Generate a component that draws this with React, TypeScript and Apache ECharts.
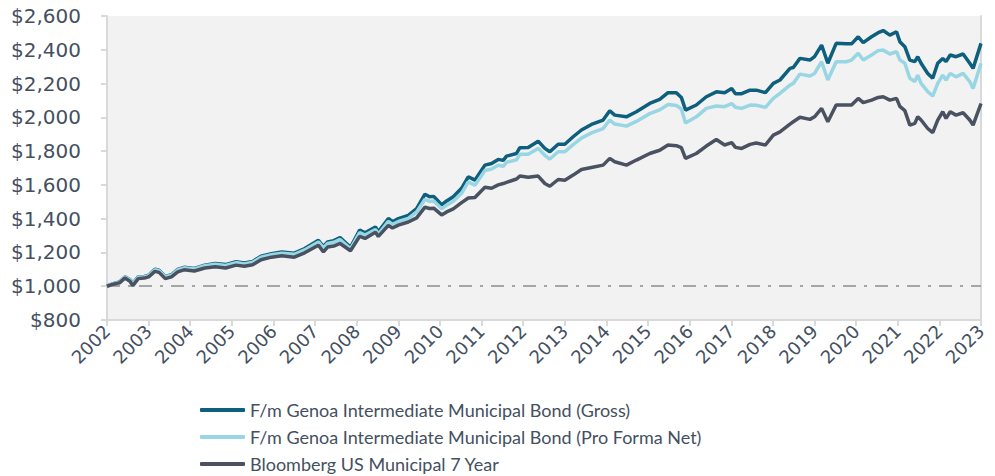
import React, { useEffect, useRef } from "react";
import * as echarts from "echarts";

const seriesNames = [
  "F/m Genoa Intermediate Municipal Bond (Gross)",
  "F/m Genoa Intermediate Municipal Bond (Pro Forma Net)",
  "Bloomberg US Municipal 7 Year",
];

const years = [
  2002.0, 2002.15, 2002.3, 2002.43, 2002.55, 2002.62, 2002.75, 2002.9, 2003.0, 2003.15,
  2003.25, 2003.4, 2003.55, 2003.7, 2003.85, 2004.1, 2004.35, 2004.6, 2004.85, 2005.1,
  2005.3, 2005.5, 2005.7, 2005.95, 2006.2, 2006.5, 2006.75, 2007.08, 2007.2, 2007.3,
  2007.45, 2007.6, 2007.85, 2008.07, 2008.2, 2008.45, 2008.52, 2008.76, 2008.86, 2009.0,
  2009.24, 2009.44, 2009.64, 2009.75, 2009.85, 2010.04, 2010.16, 2010.32, 2010.52, 2010.68,
  2010.84, 2011.08, 2011.24, 2011.4, 2011.52, 2011.6, 2011.84, 2011.92, 2012.12, 2012.36,
  2012.52, 2012.64, 2012.84, 2013.0, 2013.2, 2013.4, 2013.64, 2013.92, 2014.08, 2014.2,
  2014.48, 2014.72, 2015.04, 2015.28, 2015.48, 2015.68, 2015.8, 2015.9, 2016.16, 2016.4,
  2016.64, 2016.84, 2017.01, 2017.1, 2017.25, 2017.45, 2017.6, 2017.82, 2018.01, 2018.17,
  2018.41, 2018.49, 2018.65, 2018.89, 2019.0, 2019.17, 2019.32, 2019.52, 2019.76, 2019.89,
  2020.05, 2020.17, 2020.37, 2020.53, 2020.65, 2020.81, 2020.97, 2021.05, 2021.17, 2021.29,
  2021.41, 2021.48, 2021.56, 2021.72, 2021.84, 2021.96, 2022.08, 2022.16, 2022.26, 2022.4,
  2022.57, 2022.73, 2022.81, 2023.0,
];

const gross = [
  1000, 1015, 1025, 1055, 1040, 1018, 1055, 1058, 1065, 1100,
  1095, 1058, 1068, 1100, 1112, 1105, 1125, 1135, 1128, 1145,
  1137, 1147, 1178, 1193, 1203, 1196, 1223, 1272, 1235, 1262,
  1270, 1288, 1230, 1332, 1316, 1351, 1322, 1401, 1382, 1400,
  1420, 1460, 1545, 1530, 1532, 1482, 1505, 1530, 1580, 1648,
  1628, 1717, 1727, 1751, 1745, 1770, 1786, 1820, 1822, 1859,
  1816, 1796, 1841, 1841, 1885, 1925, 1958, 1984, 2039, 2013,
  2003, 2033, 2082, 2106, 2146, 2146, 2118, 2043, 2073, 2122,
  2151, 2146, 2171, 2140, 2140, 2161, 2161, 2146, 2201, 2221,
  2290, 2295, 2349, 2339, 2359, 2428, 2320, 2438, 2435, 2435,
  2477, 2442, 2477, 2501, 2514, 2487, 2507, 2448, 2418, 2339,
  2330, 2359, 2320, 2260, 2231, 2320, 2349, 2330, 2369, 2359,
  2375, 2320, 2290, 2438,
];

const proFormaNet = [
  1000, 1015, 1024, 1054, 1038, 1016, 1053, 1056, 1063, 1097,
  1092, 1056, 1065, 1097, 1109, 1102, 1121, 1130, 1123, 1140,
  1132, 1142, 1172, 1186, 1196, 1189, 1215, 1262, 1227, 1253,
  1260, 1277, 1221, 1318, 1303, 1336, 1308, 1384, 1366, 1383,
  1402, 1440, 1515, 1502, 1504, 1458, 1480, 1503, 1550, 1618,
  1598, 1685, 1694, 1716, 1710, 1734, 1748, 1781, 1782, 1816,
  1775, 1753, 1796, 1796, 1838, 1877, 1908, 1933, 1984, 1960,
  1948, 1976, 2022, 2044, 2076, 2070, 2050, 1966, 2003, 2053,
  2067, 2063, 2082, 2060, 2053, 2073, 2072, 2059, 2112, 2142,
  2191, 2201, 2256, 2245, 2260, 2329, 2221, 2329, 2329, 2339,
  2379, 2339, 2369, 2395, 2398, 2375, 2389, 2340, 2320, 2231,
  2212, 2250, 2201, 2152, 2126, 2201, 2250, 2221, 2260, 2240,
  2260, 2212, 2171, 2320,
];

const benchmark = [
  1000, 1012, 1020, 1048, 1030, 1003, 1045, 1048, 1055, 1088,
  1082, 1045, 1055, 1085, 1097, 1090, 1108, 1115, 1108, 1125,
  1118, 1127, 1157, 1172, 1180, 1172, 1198, 1243, 1203, 1232,
  1238, 1253, 1210, 1295, 1283, 1320, 1295, 1360, 1345, 1362,
  1380, 1405, 1468, 1460, 1462, 1422, 1440, 1458, 1495, 1522,
  1525, 1586, 1580, 1600, 1608, 1615, 1635, 1652, 1645, 1652,
  1608, 1592, 1632, 1628, 1658, 1691, 1703, 1717, 1757, 1737,
  1717, 1747, 1786, 1805, 1836, 1832, 1820, 1757, 1786, 1830,
  1869, 1836, 1850, 1822, 1816, 1840, 1848, 1836, 1895, 1914,
  1960, 1974, 2000, 1988, 2003, 2053, 1974, 2073, 2073, 2073,
  2112, 2087, 2102, 2118, 2122, 2102, 2112, 2065, 2040, 1954,
  1964, 2003, 1984, 1934, 1909, 1984, 2033, 1994, 2033, 2013,
  2027, 1984, 1954, 2082,
];

const baseline = 1000;
const colors = ["#0d5f7d", "#98d6e4", "#4a5262"];
const textColor = "#44505f";
const axisColor = "#d9d9d9";
const axisFont = "'DejaVu Sans', Verdana, sans-serif";
const legendFont = "Lato";

export default function App() {
  const ref = useRef<HTMLDivElement>(null);
  useEffect(() => {
    if (!ref.current) return;
    const chart = echarts.init(ref.current, undefined, { renderer: "svg" });
    const allSeries = [gross, proFormaNet, benchmark];
    chart.setOption({
      animation: false,
      textStyle: { fontFamily: legendFont },
      grid: {
        left: 107,
        right: 14,
        top: 16,
        bottom: 156,
        show: true,
        backgroundColor: "#f2f2f2",
        borderWidth: 0,
      },
      legend: {
        orient: "vertical",
        left: 200,
        top: 400,
        padding: 0,
        itemWidth: 45,
        itemHeight: 4,
        itemGap: 7,
        icon: "roundRect",
        data: seriesNames,
        textStyle: { color: textColor, fontSize: 18, fontFamily: legendFont, lineHeight: 20 },
      },
      xAxis: {
        type: "value",
        min: 2002,
        max: 2023,
        interval: 1,
        axisLine: { show: true, lineStyle: { color: axisColor, width: 2 } },
        axisTick: { show: true, length: 6, lineStyle: { color: axisColor, width: 2 } },
        splitLine: { show: false },
        axisLabel: {
          rotate: 45,
          color: textColor,
          fontSize: 18,
          fontFamily: axisFont,
          margin: 8,
          formatter: (v: number) => String(Math.round(v)),
        },
      },
      yAxis: [
        {
          type: "value",
          min: 800,
          max: 2600,
          interval: 200,
          axisLine: { show: true, lineStyle: { color: axisColor, width: 2 } },
          axisTick: { show: true, length: 6, lineStyle: { color: axisColor, width: 2 } },
          splitLine: { show: false },
          axisLabel: {
            color: textColor,
            fontSize: 20,
            fontFamily: axisFont,
            margin: 26,
            formatter: (v: number) => "$" + v.toLocaleString("en-US"),
          },
        },
        {
          type: "value",
          min: 800,
          max: 2600,
          interval: 200,
          position: "right",
          axisLine: { show: true, lineStyle: { color: axisColor, width: 2 } },
          axisTick: { show: false },
          axisLabel: { show: false },
          splitLine: { show: false },
        },
      ],
      series: seriesNames.map((name, i) => ({
        name,
        type: "line",
        showSymbol: false,
        symbol: "none",
        data: years.map((y, j) => [y, allSeries[i][j]]),
        lineStyle: { color: colors[i], width: 3.5 },
        itemStyle: { color: colors[i] },
        z: 3 + i,
        markLine:
          i === 0
            ? {
                silent: true,
                symbol: "none",
                label: { show: false },
                lineStyle: { color: "#a6a6a6", width: 2, type: [13, 8, 3, 8] },
                data: [{ yAxis: baseline }],
              }
            : undefined,
      })),
    });
    return () => chart.dispose();
  }, []);
  return (
    <div
      ref={ref}
      style={{ position: "fixed", left: 0, top: 0, width: 995, height: 476, background: "#fff" }}
    />
  );
}
